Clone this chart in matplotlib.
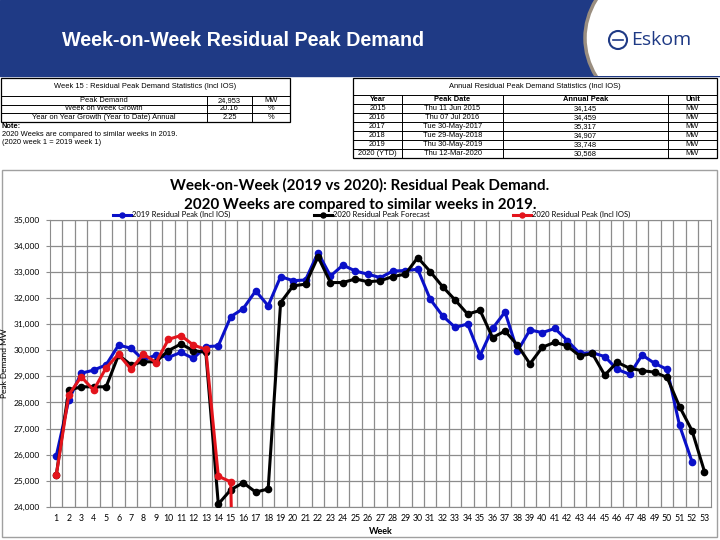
import matplotlib
matplotlib.use('Agg')
import matplotlib.pyplot as plt
from matplotlib.patches import Rectangle, Ellipse, Circle
from matplotlib.ticker import FuncFormatter
import numpy as np

# weekly residual peak demand (MW)
weeks_2019 = list(range(1, 53))
peak_2019 = [25940, 28090, 29120, 29240, 29440, 30200, 30080, 29630, 29820, 29730,
             29920, 29690, 30140, 30170, 31290, 31600, 32280, 31710, 32830, 32670,
             32700, 33748, 32850, 33270, 33040, 32920, 32790, 33040, 33060, 33110,
             31960, 31320, 30880, 31010, 29800, 30840, 31470, 29970, 30780, 30680,
             30840, 30370, 29880, 29910, 29760, 29270, 29080, 29820, 29500, 29270,
             27120, 25730]
weeks_fc = list(range(1, 54))
forecast_2020 = [25200, 28470, 28600, 28600, 28600, 29820, 29440, 29560, 29560, 29990,
                 30240, 29990, 29920, 24100, 24650, 24920, 24560, 24680, 31830, 32470,
                 32540, 33590, 32600, 32600, 32740, 32630, 32670, 32830, 32920, 33560,
                 33020, 32440, 31930, 31390, 31530, 30490, 30740, 30200, 29480, 30120,
                 30310, 30170, 29780, 29880, 29050, 29540, 29310, 29220, 29160, 28960,
                 27840, 26920, 25350]
weeks_2020 = list(range(1, 17))
actual_2020 = [25200, 28280, 28990, 28470, 29330, 29850, 29270, 29860, 29530, 30420,
               30568, 30200, 30040, 25170, 24953, 0]

series_names = ['2019 Residual Peak (Incl IOS)', '2020 Residual Peak Forecast',
                '2020 Residual Peak (Incl IOS)']

# statistics tables
week_stats = [('Peak Demand', '24,953', 'MW'),
              ('Week on Week Growth', '20.16', '%'),
              ('Year on Year Growth (Year to Date) Annual', '2.25', '%')]
annual_years = ['2015', '2016', '2017', '2018', '2019', '2020 (YTD)']
annual_dates = ['Thu 11 Jun 2015', 'Thu 07 Jul 2016', 'Tue 30-May-2017',
                'Tue 29-May-2018', 'Thu 30-May-2019', 'Thu 12-Mar-2020']
annual_peaks = ['34,145', '34,459', '35,317', '34,907', '33,748', '30,568']

NAVY = '#1F3A85'
GRID = '#8C8C8C'

fig = plt.figure(figsize=(7.2, 5.4), dpi=100)
bg = fig.add_axes([0, 0, 1, 1])
bg.set_xlim(0, 720)
bg.set_ylim(540, 0)
bg.axis('off')

# banner
banner = Rectangle((0, 0), 720, 76, color=NAVY, zorder=1)
bg.add_patch(banner)
swoosh = Ellipse((730, 38), 290, 200, fc='white', ec='#9A8E80', lw=2.5, zorder=2)
bg.add_patch(swoosh)
swoosh.set_clip_path(banner)
bg.text(62, 40, 'Week-on-Week Residual Peak Demand', color='white', fontsize=14.2,
        fontweight='bold', family='Liberation Sans', va='center', zorder=3)
bg.add_patch(Circle((618, 40), 9, fill=False, ec=NAVY, lw=1.5, zorder=3))
bg.plot([613, 623], [40, 40], color=NAVY, lw=1.2, zorder=3)
bg.text(631, 40, 'Eskom', color=NAVY, fontsize=14, family='Open Sans',
        va='center', zorder=3)


def grid_lines(xs, ys, head):
    # outer frame + all lines below the header row
    bg.add_patch(Rectangle((xs[0], ys[0]), xs[-1] - xs[0], ys[-1] - ys[0],
                           fill=False, ec='black', lw=0.9))
    for y in ys[1:-1]:
        bg.plot([xs[0], xs[-1]], [y, y], color='black', lw=0.7)
    for x in xs[1:-1]:
        bg.plot([x, x], [ys[head], ys[-1]], color='black', lw=0.7)


# left table
lx = [1, 207, 252, 290]
ly = [78, 96, 104.5, 113, 121.5]
grid_lines(lx, ly, 1)
tf = dict(fontsize=5.4, family='Liberation Sans', ha='center', va='center')
bg.text(145, 87, 'Week 15 : Residual Peak Demand Statistics (Incl IOS)', **tf)
for i, row in enumerate(week_stats):
    yc = (ly[i + 1] + ly[i + 2]) / 2
    for j, txt in enumerate(row):
        bg.text((lx[j] + lx[j + 1]) / 2, yc, txt, **tf)
bg.text(2, 126.5, 'Note:', fontsize=5.4, family='Liberation Sans', fontweight='bold', va='center')
bg.text(2, 134.5, '2020 Weeks are compared to similar weeks in 2019.', fontsize=5.4,
        family='Liberation Sans', va='center')
bg.text(2, 142.5, '(2020 week 1 = 2019 week 1)', fontsize=5.4,
        family='Liberation Sans', va='center')

# right table
rx = [353, 402, 503, 668, 717]
ry = [78, 95, 104, 113, 122, 131, 140, 149, 158]
grid_lines(rx, ry, 1)
bg.text(535, 86.5, 'Annual Residual Peak Demand Statistics (Incl IOS)', **tf)
heads = ['Year', 'Peak Date', 'Annual Peak', 'Unit']
for j, h in enumerate(heads):
    bg.text((rx[j] + rx[j + 1]) / 2, (ry[1] + ry[2]) / 2, h, fontweight='bold', **tf)
for i in range(len(annual_years)):
    yc = (ry[i + 2] + ry[i + 3]) / 2
    row = [annual_years[i], annual_dates[i], annual_peaks[i], 'MW']
    for j, txt in enumerate(row):
        bg.text((rx[j] + rx[j + 1]) / 2, yc, txt, **tf)

# chart frame and titles
bg.add_patch(Rectangle((2, 170), 715, 367, fill=False, ec='#A0A0A0', lw=1))
bg.text(360, 185, 'Week-on-Week (2019 vs 2020): Residual Peak Demand.', fontsize=10.9,
        fontweight='bold', family='Lato', ha='center', va='center')
bg.text(360, 205, '2020 Weeks are compared to similar weeks in 2019.', fontsize=10.9,
        fontweight='bold', family='Lato', ha='center', va='center')

ax = fig.add_axes([50 / 720, (540 - 506.7) / 540, 660.7 / 720, 286.7 / 540])
ax.plot(weeks_2019, peak_2019, color='#0A10C8', lw=2.2, marker='o', ms=4.5,
        label=series_names[0], zorder=3)
ax.plot(weeks_fc, forecast_2020, color='black', lw=2.2, marker='o', ms=4.5,
        label=series_names[1], zorder=4)
ax.plot(weeks_2020, actual_2020, color='#E3141C', lw=2.2, marker='o', ms=4.5,
        label=series_names[2], zorder=5)

ax.set_xlim(0.5, 53.5)
ax.set_ylim(24000, 35000)
ax.set_xticks(weeks_fc)
ax.set_xticklabels([str(w) for w in weeks_fc], fontsize=6.3, family='Lato')
ax.set_xticks(np.arange(1.5, 53, 1), minor=True)
ax.set_yticks(range(24000, 35001, 1000))
ax.yaxis.set_major_formatter(FuncFormatter(lambda v, p: f'{int(v):,}'))
for lab in ax.get_yticklabels():
    lab.set_fontsize(6)
    lab.set_family('Lato')
ax.tick_params(axis='x', which='both', length=0, pad=5)
ax.tick_params(axis='y', length=3, color=GRID, pad=4)
ax.grid(which='minor', axis='x', color=GRID, lw=0.9)
ax.grid(which='major', axis='y', color=GRID, lw=0.9)
for s in ax.spines.values():
    s.set_color(GRID)
ax.set_axisbelow(True)
ax.set_xlabel('Week', fontsize=6.5, fontweight='bold', family='Lato', labelpad=3)
ax.set_ylabel('Peak Demand MW', fontsize=6, family='Lato', labelpad=4)
ax.legend(loc='lower center', bbox_to_anchor=(0.487, 0.995), ncol=3, frameon=False,
          prop={'family': 'Lato', 'size': 5.5}, columnspacing=10.9, handlelength=2.4,
          handletextpad=0.1, borderaxespad=0, markerscale=0.8)

fig.savefig('out.png', dpi=100)
